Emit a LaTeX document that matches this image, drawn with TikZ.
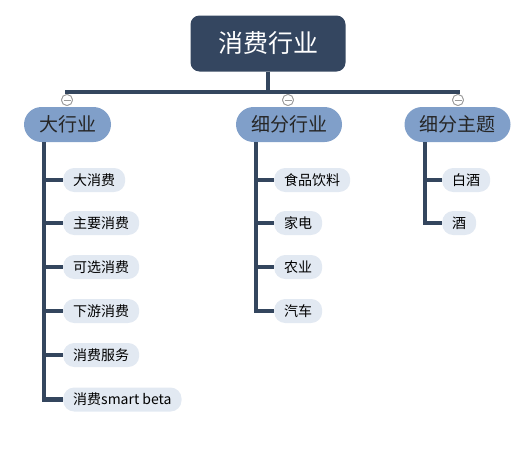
\documentclass[tikz,border=0pt]{standalone}
\usepackage{fontspec}
\setmainfont{Noto Sans CJK SC}
\definecolor{rootc}{HTML}{344660}
\definecolor{lonec}{HTML}{809FC9}
\definecolor{leafc}{HTML}{E2E9F2}
\definecolor{linec}{HTML}{34465E}
\definecolor{txtc}{HTML}{262626}
\tikzset{
  rootbox/.style={fill=rootc, rounded corners=9pt, minimum width=155pt, minimum height=56pt, text=white, font=\fontsize{25}{28}\selectfont, inner sep=0pt},
  lonebox/.style={fill=lonec, rounded corners=17.5pt, minimum height=35pt, inner xsep=15pt, text=txtc, font=\fontsize{19}{22}\selectfont},
  leafbox/.style={fill=leafc, rounded corners=11pt, minimum height=24pt, inner xsep=10pt, inner ysep=0pt, text=black, font=\fontsize{14}{16}\selectfont, anchor=west},
  conn/.style={draw=linec, line width=4.2pt},
  collapse/.style={circle, draw=gray!80, fill=white, line width=0.8pt, minimum size=11pt, inner sep=0pt,
    path picture={\draw[gray!80, line width=0.8pt] ([xshift=-3.5pt]path picture bounding box.center) -- ([xshift=3.5pt]path picture bounding box.center);}}
}
\begin{document}
\begin{tikzpicture}[x=1pt,y=-1pt]
\useasboundingbox (0,0) rectangle (530,450);
\node[rootbox] (root) at (268,43.5) {消费行业};
\node[lonebox] (a) at (67.5,124.5) {大行业};
\node[lonebox] (b) at (289,124.5) {细分行业};
\node[lonebox] (c) at (457.5,124.5) {细分主题};
\node[collapse] (ca) at (67,100) {};
\node[collapse] (cb) at (288,100) {};
\node[collapse] (cc) at (458,100) {};
% leaves
\node[leafbox] (a1) at (63,180) {大消费};
\node[leafbox] (a2) at (63,223) {主要消费};
\node[leafbox] (a3) at (63,267) {可选消费};
\node[leafbox] (a4) at (63,311) {下游消费};
\node[leafbox] (a5) at (63,355) {消费服务};
\node[leafbox] (a6) at (63,399.5) {消费smart beta};
\node[leafbox] (b1) at (274,180) {食品饮料};
\node[leafbox] (b2) at (274,223) {家电};
\node[leafbox] (b3) at (274,267) {农业};
\node[leafbox] (b4) at (274,311) {汽车};
\node[leafbox] (c1) at (442,180) {白酒};
\node[leafbox] (c2) at (442,223) {酒};
% connectors
\draw[conn] (root.south) -- ++(0,20) -| (ca.north);
\draw[conn] (root.south) -- ++(0,20) -| (cb.north);
\draw[conn] (root.south) -- ++(0,20) -| (cc.north);
\foreach \k in {1,...,6} \draw[conn] ([xshift=20.5pt]a.south west) |- (a\k.west);
\foreach \k in {1,...,4} \draw[conn] ([xshift=20pt]b.south west) |- (b\k.west);
\foreach \k in {1,2} \draw[conn] ([xshift=21pt]c.south west) |- (c\k.west);
\node[collapse] at (ca) {};
\node[collapse] at (cb) {};
\node[collapse] at (cc) {};
\end{tikzpicture}
\end{document}
